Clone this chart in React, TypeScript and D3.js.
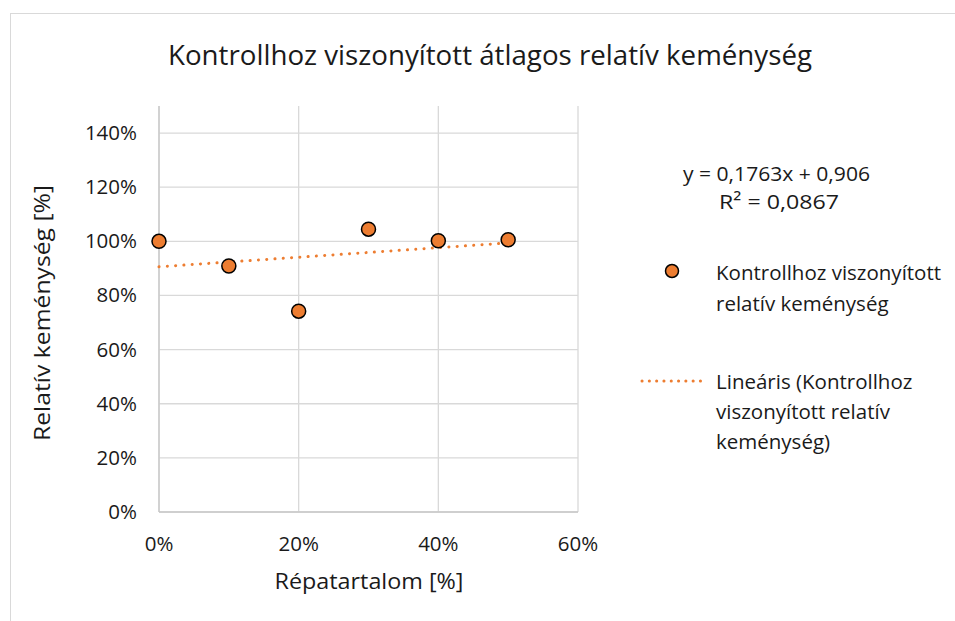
import React from "react";
import * as d3 from "d3";

const xValues = [0, 0.1, 0.2, 0.3, 0.4, 0.5];
const yValues = [1.0, 0.909, 0.742, 1.045, 1.002, 1.006];
const xTicks = [0, 0.2, 0.4, 0.6];
const yTicks = [0, 0.2, 0.4, 0.6, 0.8, 1.0, 1.2, 1.4];
const trendSlope = 0.1763;
const trendIntercept = 0.906;
const title = "Kontrollhoz viszonyított átlagos relatív keménység";
const xTitle = "Répatartalom [%]";
const yTitle = "Relatív keménység [%]";
const eqLines = ["y = 0,1763x + 0,906", "R² = 0,0867"];
const legendSeries = ["Kontrollhoz viszonyított", "relatív keménység"];
const legendTrend = ["Lineáris (Kontrollhoz", "viszonyított relatív", "keménység)"];

const W = 955;
const H = 621;
const FONT = "'Open Sans', sans-serif";
const ORANGE = "#ED7D31";
const GRID = "#d9d9d9";
const TXT = "#1a1a1a";

export default function App() {
  const x = d3.scaleLinear().domain([0, 0.6]).range([159, 578]);
  const y = d3.scaleLinear().domain([0, 1.5]).range([512, 106]);
  const fmt = d3.format(".0%");
  const trendX = [d3.min(xValues) as number, d3.max(xValues) as number];
  const trendLine = d3
    .line<number>()
    .x((d) => x(d))
    .y((d) => y(trendSlope * d + trendIntercept));

  return (
    <svg
      width={W}
      height={H}
      style={{ position: "absolute", left: 0, top: 0, background: "#fff" }}
      fontFamily={FONT}
    >
      <rect x={10.5} y={13.5} width={W} height={H} fill="#fff" stroke={GRID} strokeWidth={1} />
      <text x={168} y={65} fontSize={27} fill={TXT} textLength={644} lengthAdjust="spacingAndGlyphs">
        {title}
      </text>
      {/* gridlines */}
      {yTicks.map((t) => (
        <line key={"gy" + t} x1={x(0)} x2={x(0.6)} y1={y(t)} y2={y(t)} stroke={GRID} strokeWidth={1.3} />
      ))}
      {xTicks.map((t) => (
        <line key={"gx" + t} x1={x(t)} x2={x(t)} y1={y(0)} y2={y(1.5)} stroke={GRID} strokeWidth={1.3} />
      ))}
      <line x1={x(0)} x2={x(0.6)} y1={y(0)} y2={y(0)} stroke="#c8c8c8" strokeWidth={1.3} />
      <line x1={x(0)} x2={x(0)} y1={y(0)} y2={y(1.5)} stroke="#c8c8c8" strokeWidth={1.3} />
      {/* tick labels */}
      {yTicks.map((t) => (
        <text key={"ly" + t} x={137} y={y(t) + 7} textAnchor="end" fontSize={20.5} fill={TXT}>
          {fmt(t)}
        </text>
      ))}
      {xTicks.map((t) => (
        <text key={"lx" + t} x={x(t)} y={551} textAnchor="middle" fontSize={20.5} fill={TXT}>
          {fmt(t)}
        </text>
      ))}
      <text x={369} y={589} textAnchor="middle" fontSize={22} fill={TXT} textLength={189} lengthAdjust="spacingAndGlyphs">
        {xTitle}
      </text>
      <text
        transform={`translate(50,${313}) rotate(-90)`}
        textAnchor="middle"
        fontSize={22}
        fill={TXT}
        textLength={256}
        lengthAdjust="spacingAndGlyphs"
      >
        {yTitle}
      </text>
      {/* trend */}
      <path
        d={trendLine(trendX) || ""}
        fill="none"
        stroke={ORANGE}
        strokeWidth={3}
        strokeLinecap="round"
        strokeDasharray="0.1 8.2"
      />
      {/* points */}
      {xValues.map((v, i) => (
        <circle key={"p" + i} cx={x(v)} cy={y(yValues[i])} r={7} fill={ORANGE} stroke="#000" strokeWidth={1.5} />
      ))}
      {/* equation */}
      <text x={683} y={181} fontSize={20.5} fill={TXT} textLength={187} lengthAdjust="spacingAndGlyphs">
        {eqLines[0]}
      </text>
      <text x={719} y={209} fontSize={20.5} fill={TXT} textLength={120} lengthAdjust="spacingAndGlyphs">
        {eqLines[1]}
      </text>
      {/* legend */}
      <circle cx={672} cy={271} r={6.5} fill={ORANGE} stroke="#000" strokeWidth={1.5} />
      {legendSeries.map((s, i) => (
        <text key={"ls" + i} x={716} y={280 + i * 31} fontSize={20.5} fill={TXT}>
          {s}
        </text>
      ))}
      <line
        x1={642}
        x2={707}
        y1={381}
        y2={381}
        stroke={ORANGE}
        strokeWidth={3}
        strokeLinecap="round"
        strokeDasharray="0.1 7.2"
      />
      {legendTrend.map((s, i) => (
        <text key={"lt" + i} x={716} y={389 + i * 30} fontSize={20.5} fill={TXT}>
          {s}
        </text>
      ))}
    </svg>
  );
}
